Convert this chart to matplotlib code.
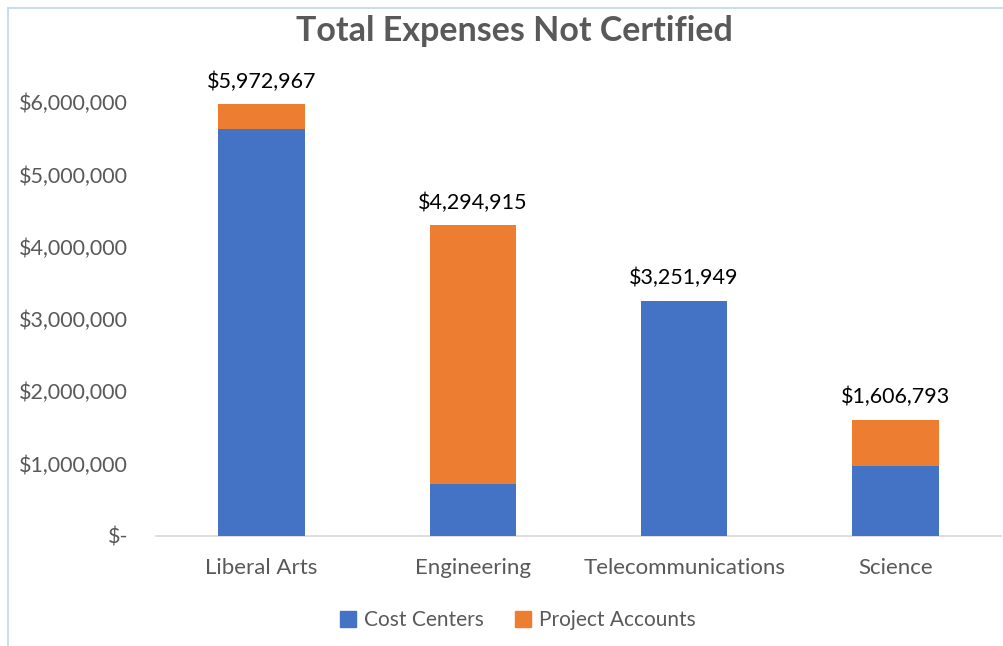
import matplotlib
matplotlib.use("Agg")
import matplotlib.pyplot as plt
from matplotlib.lines import Line2D
from matplotlib.patches import Patch
import numpy as np

categories = ["Liberal Arts", "Engineering", "Telecommunications", "Science"]
cost_centers = [5625000, 723000, 3251949, 972000]
project_accounts = [347967, 3571915, 0, 634793]
totals = [5972967, 4294915, 3251949, 1606793]
yticks = [0, 1000000, 2000000, 3000000, 4000000, 5000000, 6000000]

BLUE = "#4472C4"
ORANGE = "#ED7D31"
GRAY = "#595959"

plt.rcParams['font.family'] = ['Lato', 'DejaVu Sans']

fig = plt.figure(figsize=(10.04, 6.46), dpi=100)
ax = fig.add_axes([0.1554, 0.1703, 0.997 - 0.1554, 0.8418 - 0.1703])

x = np.arange(len(categories))
w = 0.41
ax.bar(x, cost_centers, w, color=BLUE, label="Cost Centers", zorder=3)
ax.bar(x, project_accounts, w, bottom=cost_centers, color=ORANGE, label="Project Accounts", zorder=3)

for xi, t in zip(x, totals):
    ax.annotate(f"${t:,.0f}", (xi, t), xytext=(0, 9), textcoords="offset points",
                ha="center", va="bottom", fontsize=15.5, color="black", annotation_clip=False)

ax.set_xlim(-0.5, len(categories) - 0.5)
ax.set_ylim(0, 6000000)
ax.set_yticks(yticks)
ax.set_yticklabels(["$-" if v == 0 else f"${v:,.0f}" for v in yticks])
ax.set_xticks(x)
ax.set_xticklabels(categories)
ax.tick_params(axis="y", length=0, pad=20, labelsize=15.5, labelcolor=GRAY)
ax.tick_params(axis="x", length=0, pad=16, labelsize=16, labelcolor=GRAY)

for s in ["top", "right", "left"]:
    ax.spines[s].set_visible(False)
ax.spines["bottom"].set_color("#D9D9D9")
ax.spines["bottom"].set_linewidth(1.2)

fig.text(0.512, 0.952, "Total Expenses Not Certified", ha="center", va="center",
         fontsize=24.5, fontweight="bold", color=GRAY)

handles = [Patch(color=BLUE, label="Cost Centers"), Patch(color=ORANGE, label="Project Accounts")]
fig.legend(handles=handles, loc="center", bbox_to_anchor=(0.516, 0.04), ncol=2, frameon=False,
           fontsize=15, labelcolor=GRAY, handlelength=0.75, handleheight=0.75,
           handletextpad=0.4, columnspacing=1.5)

border = "#BDD7EE"
fig.add_artist(Line2D([8/1004, 8/1004], [0, 1 - 8/646], transform=fig.transFigure, color=border, lw=1.2))
fig.add_artist(Line2D([8/1004, 1], [1 - 8/646, 1 - 8/646], transform=fig.transFigure, color=border, lw=1.2))

fig.savefig("out.png", dpi=100, facecolor="white")
